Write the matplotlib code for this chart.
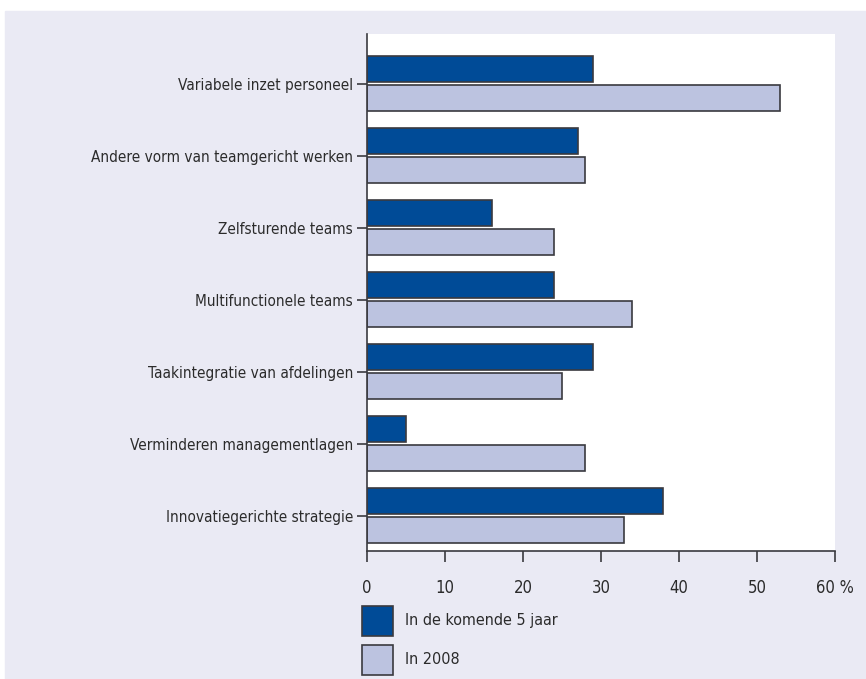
import matplotlib.pyplot as plt
import numpy as np
from matplotlib.patches import Rectangle

categories = [
    'Variabele inzet personeel',
    'Andere vorm van teamgericht werken',
    'Zelfsturende teams',
    'Multifunctionele teams',
    'Taakintegratie van afdelingen',
    'Verminderen managementlagen',
    'Innovatiegerichte strategie',
]
komende_5_jaar = [29, 27, 16, 24, 29, 5, 38]
in_2008 = [53, 28, 24, 34, 25, 28, 33]
series_labels = ['In de komende 5 jaar', 'In 2008']
x_ticks = [0, 10, 20, 30, 40, 50, 60]
x_ticklabels = ['0', '10', '20', '30', '40', '50', '60 %']

dark = '#004b97'
light = '#bcc3e0'
edge = '#3a3a3f'
bg = '#eaeaf4'
textc = '#2b2b2b'

plt.rcParams['font.family'] = ['DejaVu Sans']
plt.rcParams['font.stretch'] = 'condensed'

fig = plt.figure(figsize=(8.66, 6.79), dpi=100)
fig.patches.append(Rectangle((5 / 866, 0), 1, (679 - 11) / 679,
                             transform=fig.transFigure, color=bg, zorder=-10))

ax = fig.add_axes([367 / 866, (679 - 551) / 679, (835 - 367) / 866, (551 - 34) / 679])
ax.set_facecolor('white')

y = np.arange(len(categories))
h = 0.36
ax.barh(y - 0.2, komende_5_jaar, height=h, color=dark, edgecolor=edge, linewidth=1.2)
ax.barh(y + 0.2, in_2008, height=h, color=light, edgecolor=edge, linewidth=1.2)

ax.set_xlim(0, 60)
ax.set_ylim(6.49, -0.69)
ax.set_yticks(y)
ax.set_yticklabels(categories, fontsize=11, color=textc)
ax.set_xticks(x_ticks)
ax.set_xticklabels(x_ticklabels, fontsize=12, color=textc)
ax.tick_params(axis='y', length=7, width=1.2, color=edge, pad=3)
ax.tick_params(axis='x', length=8, width=1.2, color=edge, pad=12)

for s in ['top', 'right']:
    ax.spines[s].set_visible(False)
for s in ['left', 'bottom']:
    ax.spines[s].set_color(edge)
    ax.spines[s].set_linewidth(1.2)

# legend drawn by hand below the axis
for i, (lab, col) in enumerate(zip(series_labels, [dark, light])):
    y0 = (679 - 636 - i * 39) / 679
    fig.patches.append(Rectangle((362 / 866, y0), 31 / 866, 30 / 679,
                                 transform=fig.transFigure, facecolor=col,
                                 edgecolor=edge, linewidth=1.2))
    fig.text(405 / 866, y0 + 15 / 679, lab, fontsize=11.5, color=textc, va='center')

fig.savefig('out.png', dpi=100, facecolor='white')
